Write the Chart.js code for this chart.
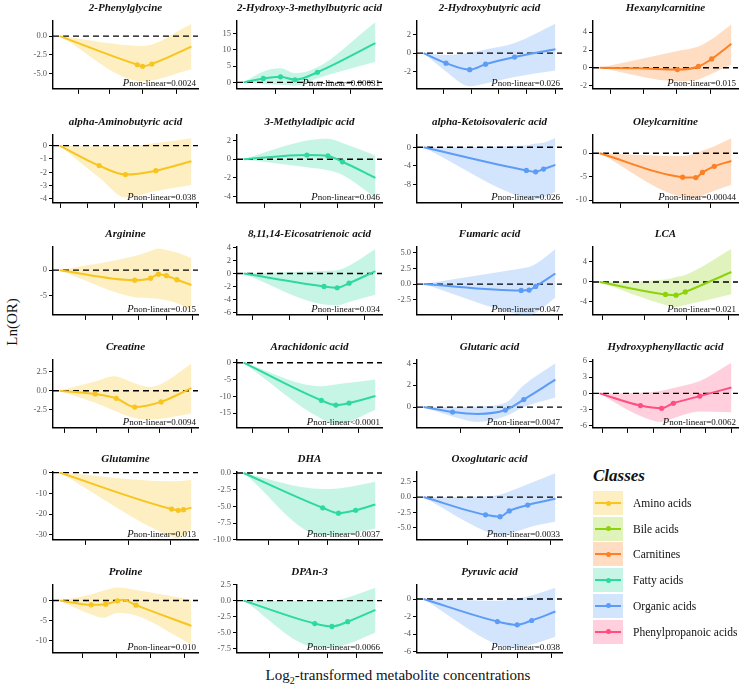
<!DOCTYPE html>
<html>
<head>
<meta charset="utf-8">
<script src="https://cdn.jsdelivr.net/npm/chart.js@4.4.1/dist/chart.umd.min.js"></script>
<style>
  body { margin: 0; background: #fff; font-family: 'Liberation Serif', 'Times New Roman', serif; }
  #wrap { position: relative; width: 740px; height: 688px; overflow: hidden; font-family: 'Liberation Serif', serif; }
  #wrap canvas { position: absolute; }
  .axis-title { position: absolute; font-size: 15px; color: #111; white-space: nowrap; transform: translate(-50%, -50%); font-family: 'Liberation Serif', serif; }
  #ytitle { transform: translate(-50%, -50%) rotate(-90deg); }
  #legendTitle { position: absolute; left: 593px; top: 466px; font-size: 17px; font-weight: bold; font-style: italic; color: #111; font-family: 'Liberation Serif', serif; }
  .lg-box { position: absolute; left: 593px; width: 30px; height: 24px; }
  .lg-line { position: absolute; left: 2px; right: 2px; top: 11px; height: 2px; }
  .lg-dot { position: absolute; left: 12.5px; top: 9.5px; width: 5px; height: 5px; border-radius: 50%; }
  .lg-text { position: absolute; left: 633px; font-size: 11.5px; color: #111; line-height: 24px; white-space: nowrap; font-family: 'Liberation Serif', serif; }
</style>
</head>
<body>
<div id="wrap">
  <div id="ytitle" class="axis-title" style="left:12px; top:322px;">Ln(OR)</div>
  <div class="axis-title" style="left:398px; top:676px;">Log<sub style="font-size:10px;">2</sub>-transformed metabolite concentrations</div>
  <div id="legendTitle">Classes</div>
</div>
<script>
// classes
const classNames = ['Amino acids', 'Bile acids', 'Carnitines', 'Fatty acids', 'Organic acids', 'Phenylpropanoic acids'];
const classColors = ['#F8C41E', '#8ED20C', '#FF8022', '#2ED9A0', '#5C9CF6', '#FF4E80'];

// panels, row by row
const metabolites = [
    '2-Phenylglycine', '2-Hydroxy-3-methylbutyric acid', '2-Hydroxybutyric acid', 'Hexanylcarnitine',
    'alpha-Aminobutyric acid', '3-Methyladipic acid', 'alpha-Ketoisovaleric acid', 'Oleylcarnitine',
    'Arginine', '8,11,14-Eicosatrienoic acid', 'Fumaric acid', 'LCA',
    'Creatine', 'Arachidonic acid', 'Glutaric acid', 'Hydroxyphenyllactic acid',
    'Glutamine', 'DHA', 'Oxoglutaric acid',
    'Proline', 'DPAn-3', 'Pyruvic acid',
];
const metaboliteClass = [0, 3, 4, 2, 0, 3, 4, 2, 0, 3, 4, 1, 0, 3, 4, 5, 0, 3, 4, 0, 3, 4];
const pValues = [
    '=0.0024', '=0.00031', '=0.026', '=0.015',
    '=0.038', '=0.046', '=0.026', '=0.00044',
    '=0.015', '=0.034', '=0.047', '=0.021',
    '=0.0094', '<0.0001', '=0.0047', '=0.0062',
    '=0.013', '=0.0037', '=0.0033',
    '=0.010', '=0.0066', '=0.038',
];

// y axis limits and ticks
const yRange = [
    [-7, 2], [-2, 18.8], [-3.9, 3.5], [-2.37, 5.26],
    [-4.3, 0.8], [-4.7, 2.6], [-12, 2.65], [-10.6, 3.9],
    [-8.9, 4.6], [-6.4, 4.1], [-4.9, 5.9], [-6.6, 7.0],
    [-4.9, 4.05], [-19.4, 0.8], [-1.9, 4.3], [-6.4, 6.2],
    [-32.5, 0.3], [-10, 0.15], [-7, 4.1],
    [-13, 3.85], [-8.2, 2.45], [-6.15, 1.6],
];
const yTickValues = [
    [-5, -2.5, 0], [0, 5, 10, 15], [-2, 0, 2], [-2, 0, 2, 4],
    [-4, -3, -2, -1, 0], [-4, -2, 0, 2], [-8, -4, 0], [-10, -5, 0],
    [-5, 0], [-6, -4, -2, 0, 2, 4], [-2.5, 0, 2.5, 5], [-4, 0, 4],
    [-2.5, 0, 2.5], [-15, -10, -5, 0], [0, 2, 4], [-6, -3, 0, 3, 6],
    [-30, -20, -10, 0], [-10, -7.5, -5, -2.5, 0], [-5, -2.5, 0, 2.5],
    [-10, -5, 0], [-7.5, -5, -2.5, 0, 2.5], [-6, -4, -2, 0],
];
// x axis: concentration rescaled so the fitted range is 0..100
const xMin = -5;
const xMax = 105;
const xTickValues = [
    [14, 38, 63, 89], [24, 53, 81], [15, 36, 57, 78, 100], [8, 33, 58, 84],
    [1, 21, 42, 63, 83, 104], [16, 43, 71, 99], [29, 68], [16, 52, 84],
    [20, 40, 60, 81, 101], [7, 35, 64, 92], [21.5, 61.5, 102], [2, 34, 66, 98],
    [4, 28, 52, 76, 100], [7, 34, 60, 87], [28, 73], [2, 21, 41, 61, 80, 100],
    [20, 52, 84], [19, 42, 64, 87], [33, 64, 96],
    [17, 43, 69, 95], [20, 42, 64, 86], [18, 44, 71, 97],
];

// fitted curve
const fitX = [
    [0, 59, 63, 70, 100], [0, 15, 28, 39, 56, 100], [0, 17, 35, 47, 69, 100], [0, 30, 59, 75, 85, 100],
    [0, 30, 50, 73, 100], [0, 48, 64, 75, 100], [0, 78, 85, 91, 100], [0, 63, 73, 78, 87, 100],
    [0, 57, 69, 75, 81, 89, 100], [0, 61, 71, 80, 100], [0, 74, 80, 85, 100], [0, 50, 58, 65, 100],
    [0, 27, 43, 57, 77, 100], [0, 59, 70, 80, 100], [0, 22, 41, 62, 76, 100], [0, 31, 47, 56, 76, 100],
    [0, 85, 90, 94, 100], [0, 60, 72, 85, 100], [0, 47, 58, 65, 79, 100],
    [0, 24, 35, 44, 48, 58, 100], [0, 54, 67, 79, 100], [0, 56, 71, 82, 100],
];
const fitY = [
    [0, -3.8, -4.0, -3.7, -1.4], [0, 1.2, 1.7, 0.8, 3.1, 12.0], [0, -1.1, -1.8, -1.2, -0.43, 0.43], [0, -0.05, -0.2, 0.15, 1.0, 2.7],
    [0, -1.5, -2.17, -1.88, -1.17], [0, 0.45, 0.35, -0.28, -2.0], [0, -5.0, -5.3, -4.7, -3.8], [0, -5.1, -5.2, -4.1, -2.8, -1.65],
    [0, -2.0, -1.6, -0.8, -1.1, -1.9, -2.96], [0, -2.0, -2.2, -1.5, 0.36], [0, -1.0, -0.95, -0.37, 1.68], [0, -2.5, -2.65, -2.0, 2.0],
    [0, -0.43, -1.0, -2.15, -1.47, 0.34], [0, -11.2, -12.6, -12.0, -9.9], [0, -0.45, -0.62, -0.27, 0.69, 2.5], [0, -2.25, -2.75, -1.83, -0.5, 1.1],
    [0, -17.6, -18.2, -17.9, -16.9], [0, -5.2, -6.0, -5.57, -4.7], [0, -2.9, -3.2, -2.26, -1.3, -0.28],
    [0, -1.07, -0.9, -0.08, 0.2, -1.15, -6.3], [0, -3.6, -4.05, -3.3, -1.45], [0, -2.57, -2.94, -2.45, -1.43],
];
// marked points on the curve
const knotX = [
    [59, 63, 70], [15, 28, 39, 56], [17, 35, 47, 69], [59, 75, 85],
    [30, 50, 73], [48, 64, 75], [78, 85, 91], [63, 73, 78, 87],
    [57, 69, 75, 81, 89], [61, 71, 80], [74, 80, 85], [50, 58, 65],
    [27, 43, 57, 77], [59, 70, 80], [22, 62, 76], [31, 47, 56, 76],
    [85, 90, 94], [60, 72, 85], [47, 58, 65, 79],
    [24, 35, 44, 58], [54, 67, 79], [56, 71, 82],
];

// 95% confidence band
const bandX = [
    [0, 63, 100], [0, 15, 28, 39, 56, 100], [0, 17, 35, 47, 69, 100], [0, 59, 75, 85, 100],
    [0, 30, 50, 73, 100], [0, 48, 64, 75, 100], [0, 78, 85, 91, 100], [0, 63, 73, 78, 87, 100],
    [0, 57, 69, 75, 81, 89, 100], [0, 61, 71, 80, 100], [0, 74, 80, 85, 100], [0, 50, 58, 65, 100],
    [0, 27, 41, 57, 68, 77, 100], [0, 59, 70, 80, 100], [0, 22, 41, 62, 76, 100], [0, 31, 47, 56, 76, 100],
    [0, 85, 90, 94, 100], [0, 60, 72, 85, 100], [0, 47, 58, 65, 79, 100],
    [0, 24, 33, 44, 58, 100], [0, 54, 67, 79, 100], [0, 56, 71, 82, 100],
];
const bandLow = [
    [0, -6.0, -4.4], [0, -0.6, -0.7, -1.0, 1.3, 6.3], [0, -2.0, -3.6, -3.3, -2.6, -1.9], [0, -1.5, -1.3, -0.67, 0.33],
    [0, -2.4, -3.9, -3.4, -2.95], [0, -0.87, -1.2, -1.7, -4.1], [0, -11.1, -11.3, -10.8, -9.6], [0, -9.4, -9.6, -9.0, -8.0, -6.7],
    [0, -5.4, -5.6, -5.7, -6.0, -6.6, -8.0], [0, -4.8, -4.9, -4.4, -3.3], [0, -4.9, -5.0, -4.6, -2.15], [0, -4.6, -5.0, -4.6, -2.45],
    [0, -1.6, -2.6, -3.6, -3.8, -3.7, -3.0], [0, -16.7, -18.2, -17.5, -14], [0, -0.87, -1.37, -0.84, 0, 0.87], [0, -4.2, -5.3, -4.6, -3.35, -3.5],
    [0, -31, -31.7, -30.5, -27.6], [0, -9.3, -9.3, -8.9, -8.3], [0, -5.6, -6.3, -6.0, -5.0, -4.0],
    [0, -3.5, -4.3, -3.1, -3.7, -10.9], [0, -7.3, -7.4, -6.8, -5.0], [0, -5.2, -5.6, -5.2, -4.3],
];
const bandHigh = [
    [0, -1.3, 1.6], [0, 3.3, 4.3, 2.8, 4.6, 18.5], [0, -0.2, 0.05, 0.4, 1.1, 3.2], [0, 1.9, 2.4, 3.2, 4.9],
    [0, -0.05, -0.05, 0.2, 0.56], [0, 2.0, 2.2, 1.75, 0.4], [0, 0.4, 0.8, 1.0, 2.0], [0, -0.6, 0, 0.6, 1.5, 3.2],
    [0, 2.8, 3.8, 4.3, 4.0, 3.5, 2.4], [0, 0.4, 0.5, 1.2, 3.8], [0, 2.5, 2.7, 3.2, 5.6], [0, 0.5, 1.0, 1.4, 6.6],
    [0, 1.2, 1.9, 1.0, 0.5, 0.9, 3.6], [0, -7, -6.5, -6.0, -5.0], [0, 0, 0.05, 0.4, 2.0, 4.0], [0, 0.1, 0.5, 1.0, 2.3, 5.7],
    [0, -4.2, -4.1, -3.9, -3.6], [0, -2.4, -2.3, -1.9, -1.3], [0, 0.1, 0.4, 0.9, 2.1, 3.9],
    [0, 1.5, 2.4, 3.2, 2.6, 0.2], [0, -0.1, 0, 0.5, 2.0], [0, -0.2, 0.05, 0.4, 1.3],
];

// layout
const colAxisX = [53, 237, 417, 593];
const rowBottom = [89, 203, 315, 428, 540, 653];
const PLOT_W = 145, PLOT_H = 68, AXIS_W = 46, PAD_T = 22, PAD_R = 6, TICK_H = 7;
const FONT = "'Liberation Serif', 'Times New Roman', serif";

const fillOf = (hex, a) => {
    const n = parseInt(hex.slice(1), 16);
    return `rgba(${n >> 16}, ${(n >> 8) & 255}, ${n & 255}, ${a})`;
};
const pts = (xs, ys) => xs.map((x, k) => ({ x, y: ys[k] }));

const panelText = {
    id: 'panelText',
    afterDraw(chart) {
        const i = chart.options.plugins.panelText.index;
        const { ctx, chartArea: a } = chart;
        ctx.save();
        ctx.fillStyle = '#111';
        ctx.font = `italic bold 11px ${FONT}`;
        ctx.textAlign = 'center';
        ctx.textBaseline = 'middle';
        ctx.fillText(metabolites[i], (a.left + a.right) / 2, a.top - 13);

        const rest = 'non-linear' + pValues[i];
        const x = a.right - 2, y = a.bottom - 3;
        ctx.textAlign = 'right';
        ctx.textBaseline = 'alphabetic';
        ctx.font = `9px ${FONT}`;
        ctx.fillText(rest, x, y);
        const w = ctx.measureText(rest).width;
        ctx.font = `italic 10.5px ${FONT}`;
        ctx.fillText('P', x - w, y);
        ctx.restore();
    },
};
Chart.register(panelText);

const wrap = document.getElementById('wrap');

metabolites.forEach((name, i) => {
    const row = i < 16 ? Math.floor(i / 4) : 4 + Math.floor((i - 16) / 3);
    const col = i < 16 ? i % 4 : (i - 16) % 3;
    const color = classColors[metaboliteClass[i]];
    const decimals = yTickValues[i].some((v) => !Number.isInteger(v)) ? 1 : 0;

    const canvas = document.createElement('canvas');
    canvas.width = AXIS_W + PLOT_W + PAD_R;
    canvas.height = PAD_T + PLOT_H + TICK_H;
    canvas.style.left = (colAxisX[col] - AXIS_W) + 'px';
    canvas.style.top = (rowBottom[row] - PLOT_H - PAD_T) + 'px';
    wrap.appendChild(canvas);

    const knots = knotX[i].map((x) => ({ x, y: fitY[i][fitX[i].indexOf(x)] }));

    new Chart(canvas, {
        type: 'line',
        data: {
            datasets: [
                {
                    data: knots,
                    showLine: false,
                    pointRadius: 2.6,
                    pointBackgroundColor: color,
                    pointBorderWidth: 0,
                    order: 1,
                },
                {
                    data: pts(fitX[i], fitY[i]),
                    borderColor: color,
                    borderWidth: 2,
                    pointRadius: 0,
                    cubicInterpolationMode: 'monotone',
                    order: 2,
                },
                {
                    data: [{ x: xMin, y: 0 }, { x: xMax, y: 0 }],
                    borderColor: '#000',
                    borderWidth: 1.4,
                    borderDash: [6, 4],
                    pointRadius: 0,
                    order: 3,
                },
                {
                    data: pts(bandX[i], bandHigh[i]),
                    borderWidth: 0,
                    borderColor: 'transparent',
                    pointRadius: 0,
                    fill: '+1',
                    backgroundColor: fillOf(color, 0.27),
                    cubicInterpolationMode: 'monotone',
                    order: 4,
                },
                {
                    data: pts(bandX[i], bandLow[i]),
                    borderWidth: 0,
                    borderColor: 'transparent',
                    pointRadius: 0,
                    fill: false,
                    cubicInterpolationMode: 'monotone',
                    order: 5,
                },
            ],
        },
        options: {
            responsive: false,
            animation: false,
            events: [],
            layout: { padding: { top: PAD_T, right: PAD_R, left: 0, bottom: 0 } },
            scales: {
                x: {
                    type: 'linear',
                    min: xMin,
                    max: xMax,
                    afterBuildTicks: (s) => { s.ticks = xTickValues[i].map((value) => ({ value })); },
                    afterFit: (s) => { s.height = TICK_H; },
                    ticks: { display: false },
                    grid: { display: true, drawOnChartArea: false, drawTicks: true, tickLength: 5, color: '#000', lineWidth: 1 },
                    border: { display: true, color: '#000', width: 1.4 },
                },
                y: {
                    min: yRange[i][0],
                    max: yRange[i][1],
                    afterBuildTicks: (s) => { s.ticks = yTickValues[i].map((value) => ({ value })); },
                    afterFit: (s) => { s.width = AXIS_W; },
                    ticks: {
                        autoSkip: false,
                        padding: 2,
                        color: '#555',
                        font: { family: FONT, size: 8.5 },
                        callback: (v) => Number(v).toFixed(decimals),
                    },
                    grid: { display: true, drawOnChartArea: false, drawTicks: true, tickLength: 4, color: '#000', lineWidth: 1 },
                    border: { display: true, color: '#000', width: 1.4 },
                },
            },
            plugins: {
                legend: { display: false },
                tooltip: { enabled: false },
                panelText: { index: i },
            },
        },
    });
});

// legend
classNames.forEach((label, k) => {
    const top = 491 + k * 25.7;
    const box = document.createElement('div');
    box.className = 'lg-box';
    box.style.top = top + 'px';
    box.style.background = fillOf(classColors[k], 0.27);
    box.innerHTML = `<div class="lg-line" style="background:${classColors[k]}"></div><div class="lg-dot" style="background:${classColors[k]}"></div>`;
    wrap.appendChild(box);
    const text = document.createElement('div');
    text.className = 'lg-text';
    text.style.top = top + 'px';
    text.textContent = label;
    wrap.appendChild(text);
});
</script>
</body>
</html>
